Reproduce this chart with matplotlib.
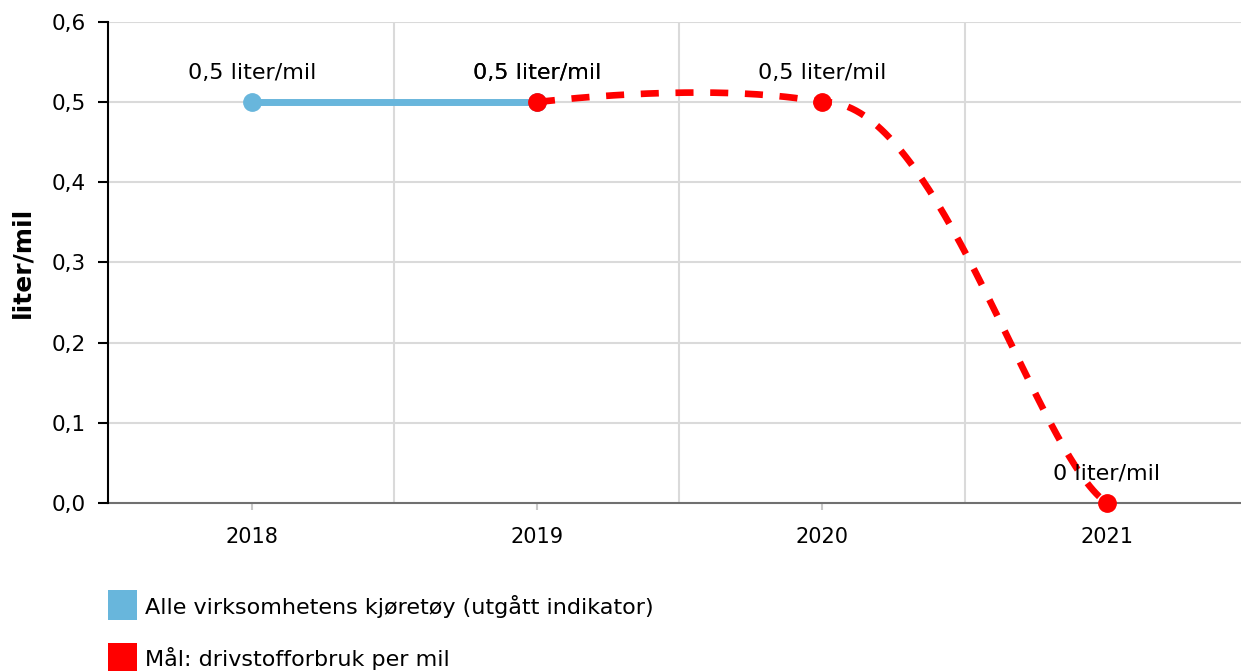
import numpy as np
import matplotlib
matplotlib.use("Agg")
import matplotlib.pyplot as plt
from matplotlib.patches import Rectangle

# data
years = ["2018", "2019", "2020", "2021"]
blue_idx = [0, 1]
blue_vals = [0.5, 0.5]
red_idx = [1, 2, 3]
red_vals = [0.5, 0.5, 0.0]
blue_labels = ["0,5 liter/mil", "0,5 liter/mil"]
red_labels = ["0,5 liter/mil", "0,5 liter/mil", "0 liter/mil"]
y_ticks = [0.0, 0.1, 0.2, 0.3, 0.4, 0.5, 0.6]
legend_names = ["Alle virksomhetens kjøretøy (utgått indikator)", "Mål: drivstofforbruk per mil"]

BLUE = "#68b6dc"
RED = "#ff0000"
GRID = "#dadada"

plt.rcParams["font.family"] = ["DejaVu Sans"]
plt.rcParams["lines.scale_dashes"] = False


def smooth_line(xs, ys, handle=0.4, damp=0.27, end_handle=0.25, end_damp=0.12):
    """Cubic bezier spline through the points, with soft tangents."""
    xs = np.asarray(xs, float)
    ys = np.asarray(ys, float)
    n = len(xs)
    left = [None] * n
    right = [None] * n
    for i in range(n):
        if 0 < i < n - 1:
            slope = damp * (ys[i + 1] - ys[i - 1]) / (xs[i + 1] - xs[i - 1])
            dl = handle * (xs[i] - xs[i - 1])
            dr = handle * (xs[i + 1] - xs[i])
            left[i] = (xs[i] - dl, ys[i] - slope * dl)
            right[i] = (xs[i] + dr, ys[i] - 0.3 * slope * dr)
        elif i == 0:
            right[i] = (xs[i], ys[i])
        else:
            dx = xs[i] - xs[i - 1]
            left[i] = (xs[i] - end_handle * dx, ys[i] + end_damp * (ys[i - 1] - ys[i]))
    t = np.linspace(0, 1, 80)[:, None]
    pts = []
    for i in range(n - 1):
        p0 = np.array([xs[i], ys[i]])
        p1 = np.array(right[i])
        p2 = np.array(left[i + 1])
        p3 = np.array([xs[i + 1], ys[i + 1]])
        seg = ((1 - t) ** 3) * p0 + 3 * ((1 - t) ** 2) * t * p1 + 3 * (1 - t) * t ** 2 * p2 + t ** 3 * p3
        pts.append(seg if i == 0 else seg[1:])
    pts = np.vstack(pts)
    return pts[:, 0], pts[:, 1]


fig = plt.figure(figsize=(12.41, 6.71), dpi=100)
ax = fig.add_axes([0.087, 0.2504, 0.913, 0.7168])

x = np.arange(len(years))
ax.set_xlim(-0.505, 3.47)
ax.set_ylim(0, 0.6)

# grid
for yv in y_ticks[1:]:
    ax.axhline(yv, color=GRID, lw=1.5, zorder=0)
for xv in x[:-1] + 0.5:
    ax.axvline(xv, color=GRID, lw=1.5, zorder=0)

# blue series
ax.plot(blue_idx, blue_vals, color=BLUE, lw=5.0, solid_capstyle="butt", zorder=3)
ax.plot(blue_idx, blue_vals, "o", color=BLUE, ms=12.5, zorder=4)

# red series
sx, sy = smooth_line(red_idx, red_vals)
ax.plot(sx, sy, color=RED, lw=4.8, linestyle=(0, (13, 12)), dash_capstyle="butt", zorder=5)
ax.plot(red_idx, red_vals, "o", color=RED, ms=12.5, zorder=6, clip_on=False)

for xi, yi, lab in zip(blue_idx, blue_vals, blue_labels):
    ax.annotate(lab, (xi, yi), xytext=(0, 21), textcoords="offset points",
                ha="center", va="center", fontsize=16, color="black", zorder=7)
for xi, yi, lab in zip(red_idx, red_vals, red_labels):
    ax.annotate(lab, (xi, yi), xytext=(0, 21), textcoords="offset points",
                ha="center", va="center", fontsize=16, color="black", zorder=7)

# axes styling
ax.set_xticks(x)
ax.set_xticklabels(years)
ax.set_yticks(y_ticks)
ax.set_yticklabels([f"{v:.1f}".replace(".", ",") for v in y_ticks])
ax.tick_params(axis="y", length=7, width=1.5, color="black", pad=9, labelsize=15.5)
ax.tick_params(axis="x", length=5, width=1.5, color="#c8c8c8", pad=12, labelsize=15)
for s in ["top", "right"]:
    ax.spines[s].set_visible(False)
ax.spines["left"].set_color("black")
ax.spines["left"].set_linewidth(1.5)
ax.spines["bottom"].set_color("#707070")
ax.spines["bottom"].set_linewidth(1.5)
ax.spines["bottom"].set_zorder(2)
ax.set_ylabel("liter/mil", fontsize=18, fontweight="bold", labelpad=12)

# legend
W, H = 1241.0, 671.0
colors = [BLUE, RED]
tops = [590, 643]
for c, top, name in zip(colors, tops, legend_names):
    fig.patches.append(Rectangle((108 / W, 1 - (top + 30) / H), 29 / W, 30 / H,
                                 transform=fig.transFigure, facecolor=c, edgecolor="none"))
    fig.text(145 / W, 1 - (top + 16) / H, name, fontsize=16, va="center", ha="left")

fig.savefig("out.png", dpi=100)
